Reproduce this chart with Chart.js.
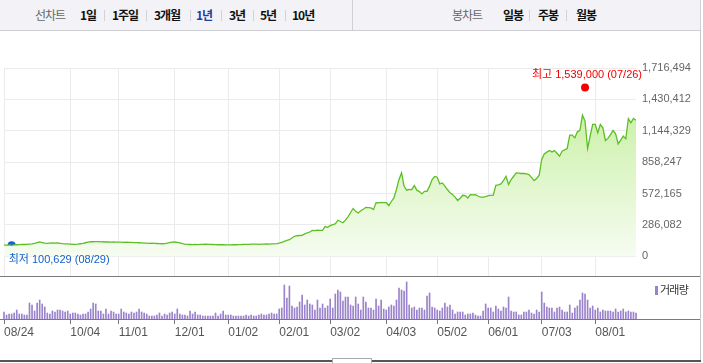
<!DOCTYPE html>
<html lang="ko">
<head>
<meta charset="utf-8">
<script src="https://cdn.jsdelivr.net/npm/chart.js@4.4.1/dist/chart.umd.min.js"></script>
<style>
  html, body { margin: 0; padding: 0; background: #fff; }
  body { width: 703px; height: 363px; position: relative; overflow: hidden; font-family: 'Noto Sans CJK KR', sans-serif; }
  .toolbar { position: absolute; left: 0; top: 0; width: 700px; height: 30px; background: #f3f3f7; border-bottom: 1px solid #cfcfd4; border-right: 1px solid #cfcfd4; }
  .t { position: absolute; top: 6px; font-size: 12px; line-height: 17px; color: #111; font-weight: 700; letter-spacing: -1px; white-space: nowrap; }
  .t.g { color: #666; font-weight: 400; }
  .t.on { color: #1d3f9e; }
  .sep { position: absolute; top: 10px; width: 1px; height: 11px; background: #d2d2d8; }
  .divider { position: absolute; left: 352px; top: 0; width: 1px; height: 30px; background: #cfcfd4; }
  .wrap { position: absolute; left: 0; width: 703px; }
  .line { position: absolute; left: 0; width: 701px; z-index: 5; }
  .vborder { position: absolute; left: 700px; top: 30px; width: 1px; height: 330px; background: #c8c8c8; z-index: 5; }
  .handle { position: absolute; left: 332px; top: 358px; width: 38px; height: 6px; border: 1px solid #aaa; background: #fff; z-index: 6; }
  .vlegend { position: absolute; left: 655px; top: 283px; font-size: 11px; line-height: 12px; color: #333; letter-spacing: -0.8px; z-index: 5; }
  .vlegend i { display: inline-block; width: 3px; height: 9px; background: #9a82cc; margin-right: 2px; vertical-align: -1px; }
</style>
</head>
<body>
<div class="toolbar">
  <span class="t g" style="left:35px">선차트</span>
  <span class="t" style="left:80px">1일</span>
  <span class="sep" style="left:104px"></span>
  <span class="t" style="left:112px">1주일</span>
  <span class="sep" style="left:146px"></span>
  <span class="t" style="left:154px">3개월</span>
  <span class="sep" style="left:190px"></span>
  <span class="t on" style="left:196px">1년</span>
  <span class="sep" style="left:221px"></span>
  <span class="t" style="left:229px">3년</span>
  <span class="sep" style="left:253px"></span>
  <span class="t" style="left:260px">5년</span>
  <span class="sep" style="left:285px"></span>
  <span class="t" style="left:292px">10년</span>
  <span class="divider"></span>
  <span class="t g" style="left:452px">봉차트</span>
  <span class="t" style="left:503px">일봉</span>
  <span class="sep" style="left:529px"></span>
  <span class="t" style="left:538px">주봉</span>
  <span class="sep" style="left:566px"></span>
  <span class="t" style="left:576px">월봉</span>
</div>

<div class="wrap" style="top:40px;height:250px"><canvas id="price-chart"></canvas></div>
<div class="wrap" style="top:276px;height:87px"><canvas id="volume-chart"></canvas></div>

<div class="line" style="top:276px;height:1px;background:#7a7a7a"></div>
<div class="line" style="top:319px;height:1px;background:#7a7a7a"></div>
<div class="line" style="top:360px;height:2px;background:#555"></div>
<div class="vborder"></div>
<div class="handle"></div>
<div class="vlegend"><i></i>거래량</div>

<script>
// 종가 (천원), 2022-08-24 ~ 2023-08-24 거래일
const closeK = [
  103, 102, 104, 101, 104, 106,
  107, 109, 108, 110, 112, 114, 118, 125, 131, 126, 120, 118, 121, 123, 120, 122, 119, 116, 114, 113,
  111, 109, 110, 112, 115, 118, 124, 130, 134, 133, 135, 134, 132, 133, 131, 132, 130, 131, 130,
  129, 130, 128, 129, 128, 127, 126, 125, 124, 123, 121, 120, 119, 120, 118, 117, 116, 115, 116, 120, 126, 130,
  131, 128, 122, 116, 112, 109, 108, 107, 108, 107, 109, 110, 111, 110, 109, 108, 107, 106, 107, 106, 105,
  104, 105, 107, 106, 107, 108, 110, 109, 110, 111, 112, 111, 110, 111, 112, 113, 112, 113, 114, 116,
  121, 128, 137, 146, 152, 168, 183, 188, 190, 192, 205, 215, 222, 237, 235, 238, 236, 237, 272, 265,
  280, 290, 295, 329, 318, 306, 330, 360, 400, 436, 410, 395, 415, 430, 447, 445, 441, 426, 490, 488, 492, 490,
  489, 463, 500, 532, 609, 700, 760, 639, 603, 610, 609, 645, 603, 590, 569, 593, 593, 640, 700, 728,
  721, 660, 669, 640, 609, 580, 563, 540, 509, 530, 557, 554, 532, 563, 560, 563, 550, 539, 539, 545,
  554, 556, 557, 648, 652, 660, 690, 730, 655, 700, 730, 760, 758, 755, 755, 751, 745, 720, 691, 710, 739,
  883, 934, 950, 965, 952, 965, 940, 913, 959, 970, 983, 1105, 1105, 1080, 1135, 1148, 1287, 1233, 983, 1096, 1202,
  1202, 1126, 1202, 1171, 1056, 1075, 1110, 1148, 1117, 1025, 1060, 1096, 1071, 1254, 1217, 1257, 1240
];

// 거래량 (만주)
const volume = [
  7, 4, 5, 5, 6, 9, 5, 5, 4, 4, 16, 14, 8, 16, 19, 15, 12, 6, 5, 8,
  7, 9, 9, 8, 7, 8, 5, 6, 6, 5, 4, 5, 5, 7, 10, 16, 15, 8, 8, 5,
  10, 5, 8, 7, 5, 5, 10, 7, 6, 5, 7, 6, 7, 10, 7, 6, 5, 3, 3, 3,
  4, 6, 3, 5, 4, 6, 7, 5, 10, 5, 4, 4, 3, 8, 5, 7, 4, 4, 3, 3,
  3, 3, 3, 6, 3, 5, 8, 4, 4, 4, 3, 3, 3,
  3, 3, 4, 3, 4, 3, 3, 4, 5, 4, 4, 5, 6, 5, 5,
  10, 11, 34, 21, 33, 13, 11, 12, 17, 24, 14, 19, 15, 14, 9, 19, 11, 15, 11, 13, 20, 11, 25,
  29, 27, 18, 22, 22, 14, 13, 22, 15, 9, 22, 17, 11, 11, 9, 20, 13, 19, 10, 9,
  12, 14, 13, 19, 31, 29, 28, 37, 14, 11, 12, 9, 11, 11, 9, 23, 26, 12, 11, 9,
  8, 11, 16, 12, 14, 9, 5, 7, 7, 7, 4, 5, 5, 6, 4, 3, 3, 8, 15, 11,
  11, 7, 13, 10, 8, 12, 11, 22, 8, 7, 7, 4, 4, 7, 7, 9, 6, 5, 9, 7,
  27, 16, 12, 11, 11, 7, 11, 12, 9, 7, 7, 14, 6, 11, 13, 19, 26, 25, 19, 11,
  13, 9, 11, 7, 9, 8, 8, 8, 7, 10, 7, 8, 10, 7, 8, 7, 7, 6
];

const tickIdx = [0, 26, 45, 67, 88, 108, 128, 150, 170, 190, 211, 232];
const tickLabels = ['08/24', '10/04', '11/01', '12/01', '01/02', '02/01', '03/02', '04/03', '05/02', '06/01', '07/03', '08/01'];
const priceTicks = [0, 286082, 572165, 858247, 1144329, 1430412, 1716494];

// 최저/최고
const lowPoint = [3, 100629, '08/29'];
const highPoint = [228, 1539000, '07/26'];

const lastIdx = closeK.length - 1;
const FONT = "'Liberation Sans', 'Noto Sans CJK KR', sans-serif";
Chart.defaults.font.family = FONT;

const extremeLabels = {
    id: 'extremeLabels',
    afterDatasetsDraw(chart) {
        const { ctx, scales } = chart;
        ctx.save();
        ctx.font = '11px ' + FONT;
        ctx.textBaseline = 'alphabetic';

        let px = scales.x.getPixelForValue(highPoint[0]);
        let py = scales.y.getPixelForValue(highPoint[1]);
        ctx.fillStyle = '#f00000';
        ctx.textAlign = 'right';
        ctx.fillText('최고 ' + highPoint[1].toLocaleString('en-US') + ' (' + highPoint[2] + ')', px + 57, py - 9);

        px = scales.x.getPixelForValue(lowPoint[0]);
        py = scales.y.getPixelForValue(lowPoint[1]);
        ctx.fillStyle = '#1560cc';
        ctx.textAlign = 'left';
        ctx.fillText('최저 ' + lowPoint[1].toLocaleString('en-US') + ' (' + lowPoint[2] + ')', px - 3, py + 18);
        ctx.restore();
    }
};

// 가격 차트
const priceData = {
    datasets: [
        {
            type: 'line',
            data: closeK.map((v, i) => ({ x: i, y: v * 1000 })),
            borderColor: '#5cbf24',
            borderWidth: 1.3,
            pointRadius: 0,
            tension: 0,
            fill: 'origin',
            backgroundColor: (c) => {
                const { chart } = c;
                const area = chart.chartArea;
                if (!area) return 'rgba(0,0,0,0)';
                const g = chart.ctx.createLinearGradient(0, area.top, 0, chart.scales.y.getPixelForValue(0));
                g.addColorStop(0, '#bfed94');
                g.addColorStop(1, '#f6fcf1');
                return g;
            }
        },
        {
            type: 'scatter',
            data: [{ x: lowPoint[0], y: lowPoint[1] }],
            pointRadius: 4,
            pointBackgroundColor: '#1560d8',
            pointBorderWidth: 0,
            clip: false
        },
        {
            type: 'scatter',
            data: [{ x: highPoint[0], y: highPoint[1] }],
            pointRadius: 4,
            pointBackgroundColor: '#f00000',
            pointBorderWidth: 0,
            clip: false
        }
    ]
};

new Chart(document.getElementById('price-chart'), {
    data: priceData,
    plugins: [extremeLabels],
    options: {
        responsive: true,
        maintainAspectRatio: false,
        animation: false,
        layout: { padding: { left: 4, right: 0, top: 28, bottom: 1 } },
        plugins: { legend: { display: false }, tooltip: { enabled: false } },
        scales: {
            x: {
                type: 'linear',
                min: 0,
                max: lastIdx,
                afterBuildTicks: s => { s.ticks = tickIdx.map(v => ({ value: v })); },
                afterFit: s => { s.height = 0; },
                ticks: { display: false },
                grid: { color: '#ebebeb', drawTicks: false },
                border: { display: false }
            },
            y: {
                position: 'right',
                min: -191736,
                max: 1716494,
                afterBuildTicks: s => { s.ticks = priceTicks.map(v => ({ value: v })); },
                afterFit: s => { s.width = 67; },
                ticks: {
                    padding: 6,
                    color: '#666',
                    font: { size: 11 },
                    callback: v => v.toLocaleString('en-US')
                },
                grid: { color: '#ebebeb', drawTicks: false },
                border: { display: false }
            }
        }
    }
});

// 거래량 차트
new Chart(document.getElementById('volume-chart'), {
    type: 'bar',
    data: {
        datasets: [{
            data: volume.map((v, i) => ({ x: i, y: v })),
            backgroundColor: '#9a82cc',
            barThickness: 1,
            clip: false
        }]
    },
    options: {
        responsive: true,
        maintainAspectRatio: false,
        animation: false,
        layout: { padding: { left: 4, right: 67, top: 0, bottom: 24 } },
        plugins: { legend: { display: false }, tooltip: { enabled: false } },
        scales: {
            x: {
                type: 'linear',
                min: 0,
                max: lastIdx,
                offset: false,
                afterBuildTicks: s => { s.ticks = tickIdx.map(v => ({ value: v })); },
                afterFit: s => { s.height = 20; },
                ticks: {
                    align: 'start',
                    padding: 1,
                    color: '#555',
                    font: { size: 12 },
                    maxRotation: 0,
                    autoSkip: false,
                    callback: v => tickLabels[tickIdx.indexOf(v)]
                },
                grid: { offset: false, drawOnChartArea: false, drawTicks: true, tickLength: 5, tickColor: '#777' },
                border: { display: false }
            },
            y: { display: false, min: 0, max: 43 }
        }
    }
});
</script>
</body>
</html>
